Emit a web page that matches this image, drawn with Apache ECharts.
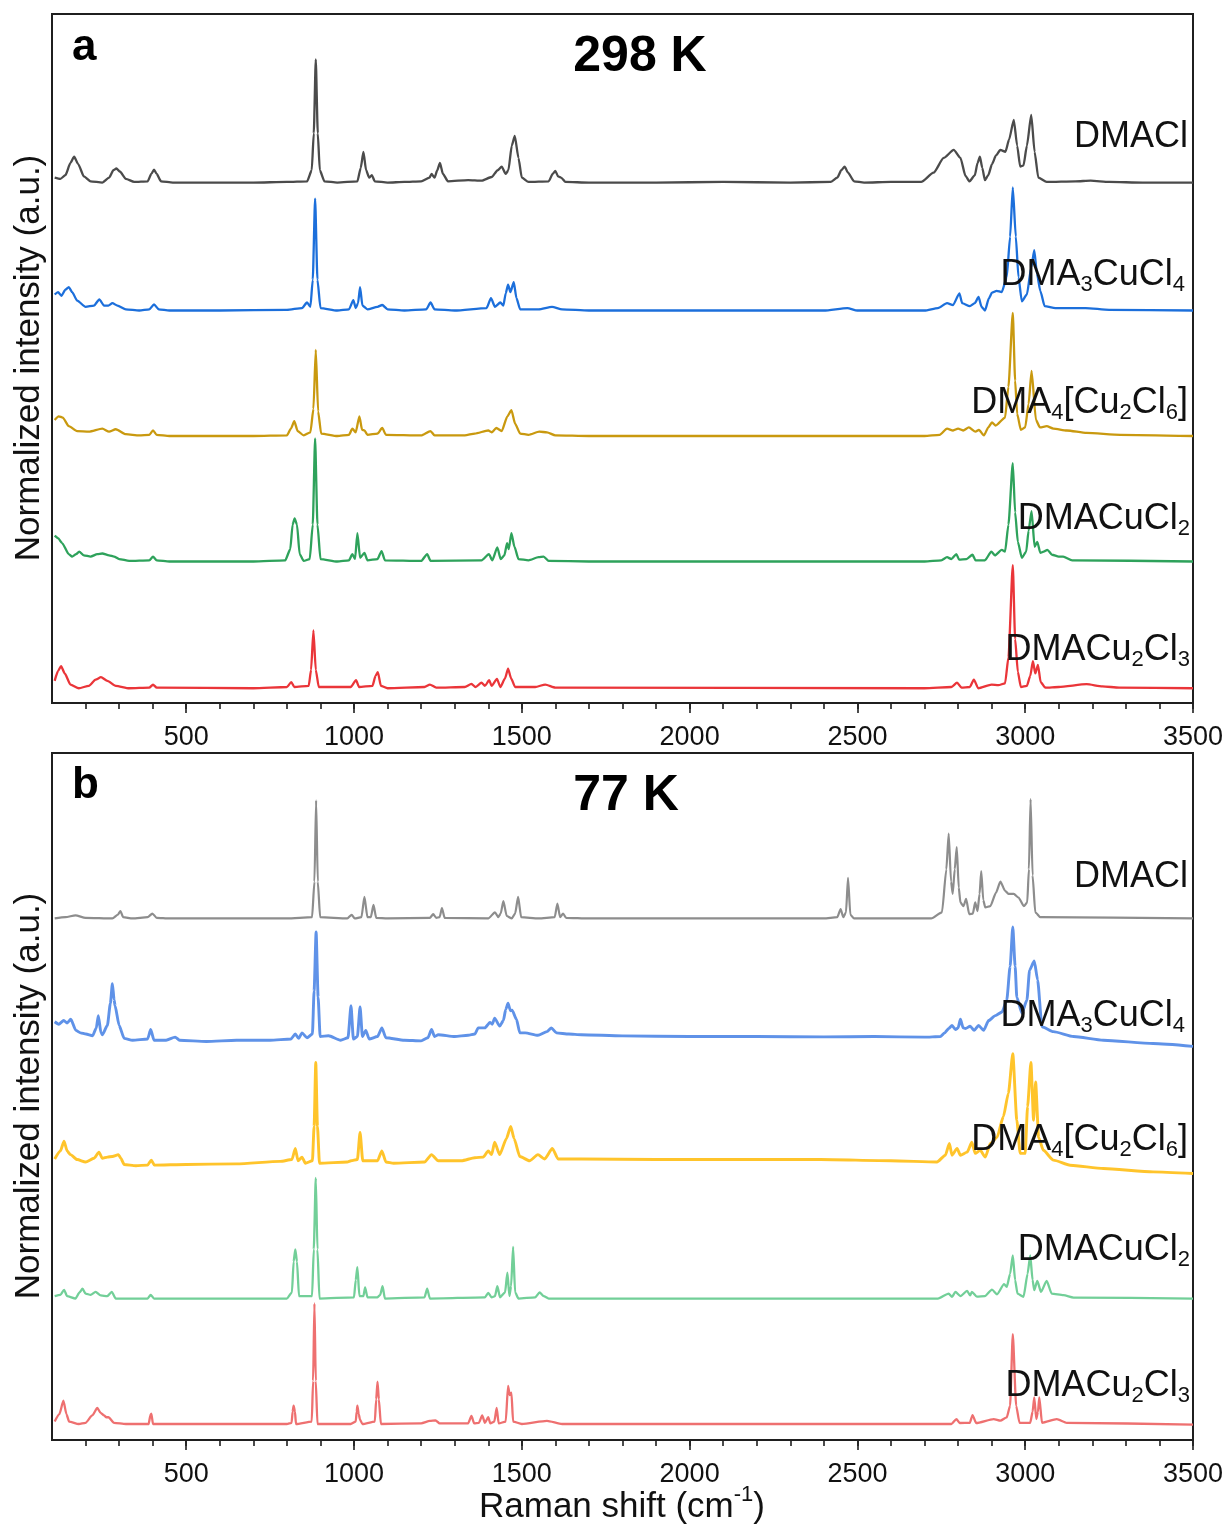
<!DOCTYPE html>
<html>
<head>
<meta charset="utf-8">
<script src="https://cdn.jsdelivr.net/npm/echarts@6/dist/echarts.min.js"></script>
<style>
  html, body { margin: 0; padding: 0; background: #fff; }
  #chart { width: 1228px; height: 1528px; }
</style>
</head>
<body>
<div id="chart"></div>
<script>
// Raman spectra of DMACl and the DMA–CuCl series, normalized intensity vs Raman shift (cm-1).
// Each spectrum is a list of [shift, intensity] points; intensity is normalized to the strongest band.

const compounds = ['DMACl', 'DMA3CuCl4', 'DMA4[Cu2Cl6]', 'DMACuCl2', 'DMACu2Cl3'];
const panelTitles = ['298 K', '77 K'];
const panelLetters = ['a', 'b'];
const majorTicks = [500, 1000, 1500, 2000, 2500, 3000, 3500];
const minorTicks = [200, 300, 400, 500, 600, 700, 800, 900, 1000, 1100, 1200, 1300, 1400, 1500, 1600, 1700,
  1800, 1900, 2000, 2100, 2200, 2300, 2400, 2500, 2600, 2700, 2800, 2900, 3000, 3100, 3200, 3300, 3400, 3500];

// ---------- 298 K ----------
const dmacl298 = [[108,0.04],[125,0.03],[140,0.06],[155,0.16],[166,0.21],[178,0.15],[195,0.05],[215,0.01],[250,0.0],
  [270,0.04],[283,0.10],[292,0.115],[302,0.09],[320,0.03],[345,0.005],[385,0.01],[396,0.07],[404,0.105],[412,0.07],
  [425,0.01],[460,0.0],[600,0.0],[700,0.0],[800,0.005],[860,0.01],[874,0.1],[880,0.4],[886,1.0],[892,0.4],[898,0.1],
  [912,0.01],[950,0.0],[1010,0.01],[1020,0.12],[1028,0.25],[1036,0.1],[1045,0.04],[1053,0.06],[1062,0.01],[1100,0.0],
  [1150,0.005],[1200,0.01],[1225,0.04],[1231,0.07],[1240,0.04],[1248,0.1],[1256,0.16],[1265,0.07],[1280,0.01],
  [1340,0.02],[1380,0.015],[1410,0.045],[1428,0.1],[1440,0.13],[1452,0.07],[1460,0.1],[1470,0.3],[1479,0.38],
  [1490,0.2],[1500,0.04],[1520,0.005],[1580,0.01],[1592,0.07],[1600,0.095],[1608,0.05],[1617,0.04],[1630,0.005],
  [1700,0.0],[1900,0.0],[2100,0.005],[2300,0.0],[2420,0.005],[2440,0.04],[2452,0.1],[2462,0.13],[2472,0.08],
  [2490,0.01],[2520,0.0],[2600,0.005],[2690,0.005],[2727,0.08],[2757,0.2],[2787,0.265],[2807,0.2],[2822,0.055],
  [2834,0.01],[2850,0.06],[2858,0.16],[2865,0.21],[2872,0.12],[2880,0.02],[2890,0.06],[2901,0.15],[2913,0.22],
  [2926,0.265],[2941,0.25],[2952,0.35],[2966,0.51],[2976,0.3],[2985,0.13],[2995,0.14],[3005,0.3],[3018,0.55],
  [3028,0.25],[3039,0.04],[3064,0.005],[3150,0.01],[3195,0.015],[3250,0.005],[3350,0.0],[3500,0.0]];

const dma3cucl4_298 = [[108,0.13],[118,0.15],[128,0.12],[140,0.17],[150,0.19],[160,0.15],[175,0.08],[200,0.03],
  [225,0.04],[241,0.09],[255,0.04],[268,0.04],[280,0.06],[295,0.04],[320,0.01],[360,0.0],[390,0.01],[404,0.05],
  [418,0.01],[450,0.0],[600,0.0],[800,0.005],[845,0.02],[860,0.065],[870,0.03],[877,0.25],[884,0.91],[891,0.25],
  [900,0.02],[950,0.0],[985,0.01],[998,0.085],[1005,0.02],[1012,0.06],[1018,0.19],[1025,0.04],[1040,0.01],
  [1070,0.03],[1084,0.045],[1100,0.01],[1150,0.0],[1215,0.01],[1228,0.065],[1240,0.01],[1300,0.0],[1395,0.02],
  [1408,0.10],[1420,0.03],[1436,0.065],[1445,0.04],[1452,0.14],[1459,0.21],[1466,0.15],[1476,0.23],[1484,0.1],
  [1495,0.01],[1550,0.01],[1590,0.03],[1620,0.01],[1700,0.0],[2000,0.0],[2400,0.0],[2470,0.02],[2500,0.0],
  [2700,0.0],[2740,0.02],[2767,0.06],[2785,0.045],[2804,0.14],[2812,0.06],[2835,0.035],[2850,0.06],[2861,0.11],
  [2870,0.03],[2880,0.0],[2892,0.1],[2901,0.145],[2915,0.16],[2930,0.15],[2945,0.27],[2955,0.6],[2963,1.0],
  [2972,0.6],[2980,0.27],[2990,0.075],[3005,0.13],[3018,0.35],[3027,0.49],[3035,0.3],[3045,0.16],[3058,0.035],
  [3090,0.02],[3180,0.02],[3250,0.005],[3500,0.0]];

const dma4cu2cl6_298 = [[108,0.13],[120,0.16],[132,0.15],[150,0.08],[175,0.04],[210,0.035],[250,0.06],[270,0.035],
  [290,0.055],[320,0.015],[360,0.005],[390,0.01],[401,0.045],[412,0.01],[450,0.0],[700,0.0],[800,0.005],[812,0.06],
  [822,0.12],[832,0.04],[850,0.005],[870,0.03],[879,0.22],[886,0.70],[893,0.2],[902,0.02],[950,0.0],[985,0.01],
  [995,0.06],[1005,0.03],[1016,0.16],[1024,0.05],[1031,0.045],[1040,0.01],[1070,0.02],[1084,0.065],[1095,0.01],
  [1200,0.005],[1228,0.04],[1240,0.005],[1330,0.005],[1360,0.02],[1400,0.045],[1410,0.03],[1424,0.065],[1440,0.04],
  [1457,0.16],[1469,0.21],[1480,0.1],[1495,0.02],[1520,0.01],[1552,0.035],[1575,0.03],[1600,0.005],[1700,0.0],
  [2700,0.0],[2745,0.01],[2767,0.06],[2785,0.045],[2800,0.06],[2815,0.045],[2832,0.07],[2852,0.035],[2862,0.05],
  [2877,0.005],[2890,0.07],[2901,0.11],[2912,0.085],[2940,0.15],[2950,0.4],[2963,1.0],[2970,0.45],[2976,0.18],
  [2987,0.05],[3000,0.07],[3010,0.26],[3019,0.53],[3032,0.13],[3044,0.07],[3064,0.08],[3084,0.06],[3124,0.045],
  [3183,0.025],[3283,0.01],[3500,0.0]];

const dmacucl2_298 = [[108,0.21],[118,0.19],[130,0.15],[150,0.06],[160,0.04],[172,0.06],[181,0.08],[195,0.05],
  [215,0.04],[235,0.06],[250,0.065],[270,0.05],[285,0.04],[300,0.02],[330,0.005],[390,0.01],[401,0.04],[412,0.01],
  [450,0.0],[700,0.0],[795,0.01],[810,0.1],[817,0.3],[823,0.35],[830,0.3],[838,0.06],[850,0.005],[868,0.02],
  [877,0.3],[884,1.0],[891,0.3],[900,0.02],[950,0.0],[985,0.01],[995,0.06],[1003,0.02],[1010,0.23],[1018,0.03],
  [1031,0.07],[1040,0.01],[1070,0.02],[1082,0.085],[1092,0.01],[1200,0.005],[1218,0.06],[1228,0.005],[1380,0.01],
  [1402,0.06],[1412,0.01],[1427,0.115],[1437,0.02],[1448,0.05],[1456,0.15],[1461,0.1],[1469,0.23],[1478,0.12],
  [1490,0.02],[1520,0.01],[1550,0.035],[1565,0.04],[1580,0.005],[1700,0.0],[2700,0.0],[2750,0.01],[2767,0.035],
  [2780,0.02],[2795,0.06],[2803,0.015],[2825,0.02],[2843,0.055],[2852,0.01],[2880,0.01],[2899,0.08],[2910,0.05],
  [2930,0.095],[2940,0.08],[2950,0.3],[2963,0.8],[2970,0.4],[2978,0.16],[2990,0.03],[3003,0.08],[3010,0.25],
  [3019,0.41],[3028,0.12],[3036,0.16],[3045,0.07],[3055,0.08],[3066,0.095],[3080,0.055],[3100,0.04],[3113,0.04],
  [3140,0.01],[3500,0.0]];

const dmacu2cl3_298 = [[108,0.06],[118,0.14],[127,0.18],[138,0.12],[155,0.03],[180,0.0],[210,0.02],[230,0.07],
  [246,0.09],[265,0.06],[290,0.02],[330,0.0],[390,0.005],[401,0.03],[412,0.005],[700,0.0],[800,0.01],[813,0.05],
  [822,0.01],[865,0.02],[872,0.15],[879,0.47],[886,0.15],[895,0.01],[990,0.01],[1006,0.065],[1015,0.01],[1055,0.02],
  [1064,0.1],[1071,0.13],[1080,0.02],[1100,0.0],[1210,0.01],[1226,0.03],[1245,0.005],[1330,0.01],[1350,0.035],
  [1362,0.01],[1380,0.045],[1390,0.02],[1403,0.065],[1410,0.02],[1426,0.075],[1436,0.01],[1450,0.08],[1459,0.16],
  [1468,0.08],[1480,0.01],[1540,0.01],[1570,0.03],[1600,0.005],[2700,0.0],[2780,0.01],[2797,0.045],[2810,0.005],
  [2835,0.01],[2847,0.07],[2860,0.0],[2900,0.03],[2920,0.025],[2940,0.04],[2950,0.25],[2963,1.0],[2970,0.4],
  [2978,0.135],[2987,0.01],[3005,0.02],[3015,0.1],[3023,0.22],[3030,0.12],[3038,0.19],[3046,0.05],[3060,0.005],
  [3100,0.01],[3183,0.033],[3230,0.015],[3280,0.005],[3500,0.0]];

// ---------- 77 K ----------
const dmacl77 = [[108,0.0],[140,0.01],[170,0.025],[200,0.005],[280,0.0],[296,0.03],[304,0.06],[312,0.01],[340,0.0],
  [385,0.01],[399,0.04],[412,0.005],[450,0.0],[800,0.0],[875,0.01],[882,0.3],[887,0.96],[892,0.3],[899,0.01],
  [980,0.0],[993,0.03],[1002,0.0],[1022,0.01],[1031,0.175],[1040,0.01],[1050,0.01],[1058,0.11],[1066,0.005],
  [1100,0.0],[1226,0.005],[1236,0.035],[1245,0.005],[1255,0.01],[1262,0.085],[1270,0.005],[1400,0.0],[1420,0.05],
  [1430,0.01],[1437,0.04],[1445,0.14],[1455,0.02],[1470,0.0],[1480,0.04],[1489,0.175],[1498,0.01],[1550,0.0],
  [1598,0.01],[1606,0.12],[1614,0.01],[1623,0.04],[1632,0.005],[1700,0.0],[2400,0.0],[2440,0.01],[2450,0.075],
  [2458,0.01],[2466,0.05],[2472,0.33],[2479,0.03],[2490,0.0],[2720,0.0],[2752,0.05],[2765,0.4],[2772,0.69],
  [2779,0.3],[2784,0.2],[2790,0.4],[2796,0.58],[2802,0.25],[2807,0.13],[2816,0.1],[2824,0.16],[2833,0.035],
  [2844,0.04],[2851,0.13],[2858,0.06],[2864,0.2],[2869,0.385],[2875,0.15],[2881,0.09],[2896,0.1],[2913,0.21],
  [2926,0.30],[2940,0.225],[2950,0.2],[2966,0.2],[2980,0.17],[2996,0.1],[3006,0.13],[3011,0.4],[3016,0.97],
  [3022,0.35],[3030,0.05],[3045,0.01],[3500,0.0]];

const dma3cucl4_77 = [[108,0.15],[120,0.13],[135,0.16],[145,0.14],[156,0.17],[171,0.08],[185,0.06],[201,0.05],
  [221,0.036],[232,0.1],[238,0.2],[246,0.06],[250,0.045],[265,0.12],[274,0.3],[280,0.46],[285,0.33],[288,0.28],
  [300,0.12],[315,0.015],[340,0.0],[385,0.01],[394,0.087],[404,0.0],[440,0.0],[467,0.025],[480,0.0],[560,-0.01],
  [650,0.0],[750,0.0],[812,0.01],[825,0.05],[835,0.015],[845,0.06],[860,0.02],[876,0.05],[881,0.4],[887,0.88],
  [893,0.35],[899,0.03],[924,0.036],[960,0.0],[982,0.02],[991,0.28],[998,0.01],[1010,0.03],[1018,0.27],[1025,0.03],
  [1035,0.08],[1045,0.01],[1070,0.03],[1083,0.1],[1095,0.02],[1150,0.0],[1200,-0.005],[1220,0.02],[1231,0.087],
  [1240,0.03],[1251,0.045],[1300,0.03],[1340,0.04],[1360,0.05],[1370,0.1],[1390,0.1],[1405,0.145],[1412,0.13],
  [1419,0.18],[1434,0.115],[1445,0.16],[1452,0.25],[1459,0.3],[1466,0.24],[1471,0.245],[1484,0.17],[1494,0.06],
  [1510,0.06],[1548,0.04],[1575,0.07],[1588,0.1],[1603,0.06],[1640,0.05],[1677,0.045],[1800,0.035],[2000,0.03],
  [2200,0.03],[2400,0.027],[2550,0.03],[2700,0.025],[2747,0.03],[2760,0.06],[2772,0.095],[2782,0.12],[2792,0.087],
  [2800,0.1],[2807,0.17],[2815,0.1],[2822,0.095],[2836,0.114],[2848,0.08],[2861,0.12],[2876,0.08],[2891,0.16],
  [2911,0.2],[2931,0.23],[2945,0.325],[2955,0.6],[2963,0.92],[2970,0.6],[2975,0.35],[2990,0.22],[3005,0.325],
  [3013,0.57],[3027,0.645],[3037,0.49],[3050,0.11],[3084,0.07],[3144,0.03],[3233,0.0],[3381,-0.027],[3500,-0.05]];

const dma4cu2cl6_77 = [[108,0.035],[125,0.1],[136,0.18],[145,0.1],[155,0.07],[175,0.03],[200,0.01],[225,0.04],
  [240,0.09],[250,0.04],[265,0.05],[280,0.055],[298,0.07],[305,0.04],[315,-0.01],[350,-0.02],[385,-0.015],[396,0.025],
  [405,-0.015],[500,-0.01],[650,-0.005],[780,0.015],[815,0.03],[825,0.12],[833,0.02],[845,0.05],[855,0.0],[876,0.02],
  [881,0.3],[886,0.82],[891,0.3],[897,0.0],[980,0.01],[991,0.02],[1010,0.03],[1018,0.25],[1026,0.02],[1035,0.02],
  [1070,0.02],[1083,0.1],[1095,0.01],[1118,0.0],[1210,0.01],[1231,0.07],[1251,0.02],[1320,0.02],[1360,0.045],
  [1385,0.05],[1400,0.1],[1410,0.07],[1419,0.17],[1434,0.07],[1454,0.2],[1467,0.3],[1477,0.2],[1494,0.055],
  [1523,0.02],[1548,0.07],[1568,0.035],[1591,0.12],[1608,0.035],[1677,0.035],[1900,0.03],[2200,0.03],[2390,0.03],
  [2600,0.02],[2737,0.01],[2762,0.065],[2774,0.16],[2782,0.065],[2797,0.12],[2807,0.065],[2827,0.09],[2841,0.17],
  [2851,0.08],[2866,0.105],[2881,0.05],[2896,0.16],[2916,0.21],[2935,0.38],[2950,0.57],[2963,0.89],[2975,0.35],
  [2985,0.08],[3000,0.08],[3007,0.46],[3017,0.82],[3025,0.35],[3031,0.66],[3040,0.21],[3054,0.105],[3084,0.025],
  [3134,-0.016],[3233,-0.043],[3381,-0.07],[3500,-0.084]];

const dmacucl2_77 = [[108,0.02],[125,0.03],[136,0.07],[145,0.02],[170,0.0],[182,0.05],[191,0.08],[200,0.04],
  [215,0.03],[230,0.055],[245,0.025],[265,0.02],[278,0.055],[290,0.0],[385,0.0],[394,0.03],[404,0.0],[800,0.0],
  [815,0.05],[820,0.3],[825,0.40],[830,0.3],[836,0.02],[875,0.02],[880,0.4],[886,0.98],[891,0.4],[897,0.0],
  [1000,0.01],[1005,0.15],[1010,0.255],[1016,0.02],[1028,0.02],[1033,0.09],[1040,0.01],[1070,0.01],[1078,0.03],
  [1085,0.1],[1092,0.0],[1210,0.01],[1218,0.08],[1226,0.0],[1390,0.01],[1400,0.045],[1410,0.01],[1420,0.02],
  [1427,0.1],[1435,0.01],[1450,0.05],[1457,0.21],[1463,0.02],[1468,0.1],[1474,0.42],[1480,0.05],[1490,0.0],
  [1540,0.01],[1553,0.05],[1565,0.02],[1580,0.0],[2740,0.0],[2772,0.04],[2782,0.014],[2792,0.054],[2807,0.02],
  [2827,0.062],[2836,0.025],[2841,0.054],[2856,0.015],[2880,0.02],[2901,0.073],[2916,0.035],[2937,0.117],
  [2945,0.095],[2955,0.2],[2963,0.35],[2970,0.15],[2977,0.04],[2995,0.014],[3007,0.2],[3015,0.35],[3022,0.15],
  [3027,0.068],[3036,0.144],[3047,0.054],[3064,0.144],[3079,0.04],[3114,0.027],[3144,0.008],[3500,0.0]];

const dmacu2cl3_77 = [[108,0.02],[122,0.08],[134,0.19],[143,0.08],[151,0.02],[180,0.0],[200,0.01],[220,0.07],
  [235,0.13],[245,0.09],[255,0.07],[262,0.055],[268,0.055],[285,0.01],[320,0.0],[388,0.0],[393,0.07],[396,0.085],
  [401,0.0],[800,0.0],[814,0.01],[817,0.1],[820,0.15],[824,0.1],[827,0.0],[874,0.02],[878,0.35],[882,0.98],
  [886,0.35],[891,0.0],[990,0.0],[1005,0.02],[1008,0.1],[1010,0.15],[1014,0.08],[1018,0.035],[1025,0.0],
  [1062,0.02],[1066,0.2],[1070,0.345],[1074,0.2],[1080,0.0],[1200,0.005],[1226,0.025],[1243,0.03],[1255,0.005],
  [1340,0.005],[1350,0.065],[1358,0.005],[1372,0.01],[1382,0.07],[1390,0.01],[1400,0.055],[1406,0.005],[1418,0.02],
  [1425,0.13],[1431,0.005],[1452,0.02],[1459,0.31],[1464,0.235],[1469,0.255],[1474,0.02],[1500,0.0],[1575,0.025],
  [1620,0.0],[2780,0.0],[2795,0.04],[2805,0.008],[2835,0.01],[2843,0.073],[2854,0.008],[2906,0.04],[2926,0.027],
  [2945,0.054],[2955,0.15],[2963,0.73],[2973,0.15],[2983,0.01],[3015,0.01],[3022,0.1],[3027,0.217],[3033,0.04],
  [3038,0.1],[3042,0.217],[3050,0.01],[3094,0.04],[3124,0.01],[3500,-0.005]];

const spectra298 = [dmacl298, dma3cucl4_298, dma4cu2cl6_298, dmacucl2_298, dmacu2cl3_298];
const spectra77 = [dmacl77, dma3cucl4_77, dma4cu2cl6_77, dmacucl2_77, dmacu2cl3_77];

// vertical stacking offsets (in intensity units) for each trace
const offsets298 = [4.11, 3.07, 2.05, 1.03, 0];
const offsets77 = [4.11, 3.12, 2.12, 1.02, 0];
const colors298 = ['#4b4b4b', '#1c6fdb', '#c9990f', '#2ea25b', '#ea3539'];
const colors77 = ['#8d8d8d', '#5f92e8', '#ffc42b', '#72cf98', '#ee7070'];
const widths298 = [2.3, 2.3, 2.3, 2.3, 2.3];
const widths77 = [2.2, 2.9, 2.9, 2.3, 2.3];

const FONT = '"Liberation Sans", Arial, Helvetica, sans-serif';
const AXIS_COLOR = '#1f1f1f';

const gridBoxes = [
  { left: 52, top: 14, width: 1141, height: 689 },
  { left: 52, top: 753, width: 1141, height: 687 }
];
const yRanges = [[-0.12, 5.48], [-0.13, 5.455]];

const grids = gridBoxes.map(b => Object.assign({ show: true, borderColor: AXIS_COLOR, borderWidth: 2, containLabel: false }, b));

const xAxes = [];
const yAxes = [];
gridBoxes.forEach((b, g) => {
  // minor ticks every 100 cm-1 (also the data axis)
  xAxes.push({
    type: 'value', gridIndex: g, min: 100, max: 3500, position: 'bottom',
    axisLine: { show: true, onZero: false, lineStyle: { color: AXIS_COLOR, width: 2 } },
    axisTick: { show: true, customValues: minorTicks, length: 6, lineStyle: { color: AXIS_COLOR, width: 1.6 } },
    axisLabel: { show: false },
    splitLine: { show: false }
  });
  // major ticks and labels every 500 cm-1
  xAxes.push({
    type: 'value', gridIndex: g, min: 100, max: 3500, position: 'bottom',
    axisLine: { show: false, onZero: false },
    axisTick: { show: true, customValues: majorTicks, length: 10, lineStyle: { color: AXIS_COLOR, width: 1.6 } },
    axisLabel: { show: true, customValues: majorTicks, fontSize: 27, color: '#111', fontFamily: FONT, margin: 21,
      formatter: v => String(v) },
    splitLine: { show: false }
  });
  yAxes.push({
    type: 'value', gridIndex: g, min: yRanges[g][0], max: yRanges[g][1],
    axisLine: { show: true, onZero: false, lineStyle: { color: AXIS_COLOR, width: 2 } },
    axisTick: { show: false }, axisLabel: { show: false }, splitLine: { show: false }
  });
});

function stacked(points, off) {
  return points.map(p => [p[0], p[1] + off]);
}

const series = [];
[[spectra298, offsets298, colors298, widths298], [spectra77, offsets77, colors77, widths77]].forEach((set, g) => {
  const [spectra, offs, cols, wids] = set;
  spectra.forEach((pts, i) => {
    series.push({
      type: 'line', name: compounds[i] + ' ' + panelTitles[g],
      xAxisIndex: g * 2, yAxisIndex: g,
      data: stacked(pts, offs[i]),
      showSymbol: false, symbol: 'none', smooth: 0.2, smoothMonotone: 'x', silent: true,
      lineStyle: { color: cols[i], width: wids[i], join: 'round' },
      z: 2
    });
  });
});

// formula text with numeric subscripts, as rich text
function formulaRich(s) {
  return s.match(/\d+|[^\d]+/g).map(t => /^\d+$/.test(t) ? '{s|' + t + '}' : '{m|' + t + '}').join('');
}
const labelRich = {
  m: { fontSize: 36, lineHeight: 42, fontFamily: FONT, fill: '#111' },
  s: { fontSize: 22, lineHeight: 15, verticalAlign: 'bottom', fontFamily: FONT, fill: '#111' }
};
const labelPos = [
  [[1188, 137], [1185, 275], [1188, 403], [1190, 519], [1190, 650]],
  [[1188, 877], [1185, 1016], [1188, 1140], [1190, 1250], [1190, 1386]]
];

const graphics = [];
labelPos.forEach((panel, g) => {
  panel.forEach((pos, i) => {
    graphics.push({
      type: 'text', x: pos[0], y: pos[1], z: 100, silent: true,
      style: { text: formulaRich(compounds[i]), align: 'right', verticalAlign: 'middle', rich: labelRich }
    });
  });
});
// panel titles and letters
[[640, 57], [626, 796]].forEach((p, g) => {
  graphics.push({ type: 'text', x: p[0], y: p[1], z: 100, silent: true,
    style: { text: panelTitles[g], align: 'center', verticalAlign: 'middle', fontSize: 50, fontWeight: 'bold', fontFamily: FONT, fill: '#000' } });
});
[[72, 48], [72, 786]].forEach((p, g) => {
  graphics.push({ type: 'text', x: p[0], y: p[1], z: 100, silent: true,
    style: { text: panelLetters[g], align: 'left', verticalAlign: 'middle', fontSize: 44, fontWeight: 'bold', fontFamily: FONT, fill: '#000' } });
});
// y axis titles
[358, 1096].forEach(cy => {
  graphics.push({ type: 'text', x: 29, y: cy, rotation: Math.PI / 2, z: 100, silent: true,
    style: { text: 'Normalized intensity (a.u.)', align: 'center', verticalAlign: 'middle', fontSize: 35, fontFamily: FONT, fill: '#111' } });
});
// x axis title
graphics.push({ type: 'text', x: 622, y: 1507, z: 100, silent: true,
  style: { text: '{t|Raman shift (cm}{p|-1}{t|)}', align: 'center', verticalAlign: 'middle',
    rich: { t: { fontSize: 35, lineHeight: 40, fontFamily: FONT, fill: '#111' },
            p: { fontSize: 22, lineHeight: 46, verticalAlign: 'top', fontFamily: FONT, fill: '#111' } } } });

const chart = echarts.init(document.getElementById('chart'), null, { renderer: 'canvas' });
chart.setOption({
  animation: false,
  backgroundColor: '#ffffff',
  grid: grids,
  xAxis: xAxes,
  yAxis: yAxes,
  series: series,
  graphic: graphics
});
</script>
</body>
</html>
